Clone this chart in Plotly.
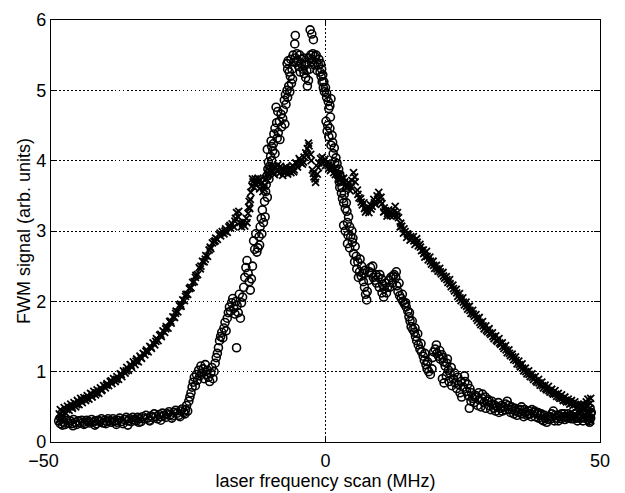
import plotly.graph_objects as go

# ---- data (laser frequency in MHz, FWM signal arb. units) ----
cross_points = [
    (-48.6,0.30),(-48.5,0.40),(-48.3,0.46),(-48.1,0.35),(-47.9,0.43),(-47.6,0.49),(-47.3,0.41),(-47.0,0.51),
    (-46.7,0.45),(-46.4,0.54),(-46.1,0.48),(-45.8,0.56),(-45.5,0.50),(-45.2,0.59),(-44.9,0.53),(-44.6,0.62),
    (-44.3,0.56),(-44.0,0.63),(-43.7,0.59),(-43.4,0.66),(-43.1,0.61),(-42.8,0.69),(-42.5,0.64),(-42.2,0.72),
    (-41.9,0.67),(-41.6,0.74),(-41.3,0.69),(-41.0,0.77),(-40.7,0.74),(-40.4,0.80),(-40.1,0.77),(-39.8,0.83),
    (-39.5,0.80),(-39.2,0.86),(-38.9,0.83),(-38.6,0.90),(-38.3,0.86),(-38.0,0.93),(-37.7,0.89),(-37.4,0.97),
    (-37.1,0.93),(-36.8,1.01),(-36.5,0.98),(-36.2,1.06),(-35.9,1.02),(-35.6,1.10),(-35.3,1.06),(-35.0,1.14),
    (-34.7,1.10),(-34.4,1.18),(-34.1,1.14),(-33.8,1.22),(-33.5,1.19),(-33.2,1.26),(-32.9,1.24),(-32.6,1.31),
    (-32.3,1.28),(-32.0,1.36),(-31.7,1.33),(-31.4,1.41),(-31.1,1.38),(-30.8,1.47),(-30.5,1.44),(-30.2,1.52),
    (-29.9,1.50),(-29.6,1.58),(-29.3,1.56),(-29.0,1.64),(-28.7,1.62),(-28.4,1.71),(-28.1,1.69),(-27.8,1.78),
    (-27.5,1.77),(-27.2,1.86),(-26.9,1.85),(-26.6,1.94),(-26.3,1.93),(-26.0,2.02),(-25.7,2.01),(-25.4,2.10),
    (-25.1,2.10),(-24.8,2.18),(-24.5,2.19),(-24.2,2.27),(-23.9,2.28),(-23.6,2.37),(-23.3,2.38),(-23.0,2.48),
    (-22.7,2.50),(-22.4,2.57),(-22.1,2.56),(-21.8,2.65),(-21.5,2.64),(-21.2,2.73),(-20.9,2.75),(-20.6,2.83),
    (-20.3,2.85),(-20.0,2.90),(-19.7,2.88),(-19.4,2.95),(-19.1,2.93),(-18.8,2.99),(-18.5,2.96),(-18.2,3.03),
    (-17.9,2.98),(-17.6,3.06),(-17.3,3.04),(-17.0,3.10),(-16.7,3.06),(-16.4,3.18),(-16.2,3.26),(-15.9,3.20),
    (-15.6,3.12),(-15.3,3.06),(-15.0,3.13),(-14.7,3.07),(-14.4,3.18),(-14.1,3.25),(-13.9,3.42),(-13.8,3.32),
    (-13.6,3.55),(-13.4,3.64),(-13.2,3.70),(-13.0,3.62),(-12.8,3.74),(-12.6,3.66),(-12.3,3.75),(-12.0,3.60),
    (-11.7,3.68),(-11.4,3.56),(-11.1,3.64),(-10.8,3.74),(-10.5,3.82),(-10.2,3.86),(-9.9,3.92),(-9.6,3.84),
    (-9.3,3.80),(-9.0,3.90),(-8.7,3.94),(-8.4,3.82),(-8.1,3.88),(-7.8,3.79),(-7.5,3.87),(-7.2,3.91),
    (-6.9,3.81),(-6.6,3.89),(-6.3,3.83),(-6.0,3.93),(-5.7,3.87),(-5.4,3.97),(-5.1,3.91),(-4.8,4.03),
    (-4.5,3.97),(-4.2,3.95),(-3.9,4.05),(-3.6,4.11),(-3.3,4.17),(-3.0,4.21),(-2.7,4.09),(-2.4,3.87),
    (-2.1,3.77),(-1.8,3.69),(-1.5,3.81),(-1.2,3.97),(-0.9,4.03),(-0.6,4.05),(-0.3,3.99),(0.0,3.93),
    (0.3,3.97),(0.6,3.89),(0.9,3.86),(1.2,3.93),(1.5,3.83),(1.8,3.80),(2.1,3.86),(2.4,3.73),
    (2.7,3.79),(3.0,3.69),(3.3,3.75),(3.6,3.65),(3.9,3.61),(4.2,3.69),(4.5,3.57),(4.8,3.72),
    (5.1,3.83),(5.4,3.70),(5.8,3.58),(6.1,3.47),(6.4,3.46),(6.7,3.37),(7.0,3.40),(7.3,3.27),
    (7.6,3.30),(7.9,3.26),(8.2,3.37),(8.5,3.35),(8.8,3.45),(9.1,3.38),(9.4,3.50),(9.7,3.55),
    (10.0,3.42),(10.3,3.39),(10.6,3.27),(10.9,3.29),(11.2,3.21),(11.5,3.30),(11.8,3.22),(12.1,3.24),
    (12.4,3.22),(12.7,3.35),(13.0,3.21),(13.3,3.19),(13.6,3.06),(13.9,3.07),(14.2,2.97),(14.5,2.99),
    (14.8,2.91),(15.1,2.95),(15.4,2.87),(15.7,2.89),(16.0,2.92),(16.3,2.81),(16.6,2.89),(16.9,2.79),
    (17.2,2.81),(17.5,2.72),(17.8,2.73),(18.1,2.63),(18.4,2.71),(18.7,2.59),(19.0,2.63),(19.3,2.53),
    (19.6,2.57),(19.9,2.47),(20.2,2.51),(20.5,2.43),(20.8,2.47),(21.1,2.39),(21.4,2.41),(21.7,2.33),
    (22.0,2.35),(22.3,2.27),(22.6,2.31),(22.9,2.21),(23.2,2.23),(23.5,2.15),(23.8,2.17),(24.1,2.07),
    (24.4,2.11),(24.7,2.01),(25.0,2.05),(25.3,1.95),(25.6,1.99),(25.9,1.89),(26.2,1.93),(26.5,1.83),
    (26.8,1.87),(27.1,1.79),(27.4,1.81),(27.7,1.73),(28.0,1.77),(28.3,1.67),(28.6,1.71),(28.9,1.61),
    (29.2,1.65),(29.5,1.57),(29.8,1.61),(30.1,1.53),(30.4,1.55),(30.7,1.47),(31.0,1.51),(31.3,1.43),
    (31.6,1.47),(31.9,1.39),(32.2,1.41),(32.5,1.33),(32.8,1.37),(33.1,1.27),(33.4,1.31),(33.7,1.23),
    (34.0,1.25),(34.3,1.17),(34.6,1.21),(34.9,1.11),(35.2,1.15),(35.5,1.07),(35.8,1.11),(36.1,1.01),
    (36.4,1.05),(36.7,0.97),(37.0,1.01),(37.3,0.93),(37.6,0.97),(37.9,0.89),(38.2,0.93),(38.5,0.85),
    (38.8,0.89),(39.1,0.81),(39.4,0.85),(39.7,0.77),(40.0,0.81),(40.3,0.74),(40.6,0.79),(40.9,0.71),
    (41.2,0.75),(41.5,0.68),(41.8,0.73),(42.1,0.65),(42.4,0.69),(42.7,0.62),(43.0,0.67),(43.3,0.59),
    (43.6,0.64),(43.9,0.57),(44.2,0.61),(44.5,0.54),(44.8,0.59),(45.1,0.52),(45.4,0.57),(45.7,0.49),
    (46.0,0.54),(46.3,0.47),(46.6,0.53),(46.9,0.46),(47.2,0.53),(47.5,0.57),(47.8,0.61),(48.0,0.47),
    (48.1,0.40),(48.2,0.34),(48.3,0.30),
    # second scan of the same trace (thickens the band)
    (-48.4,0.33),(-47.8,0.38),(-47.1,0.46),(-46.2,0.50),(-45.3,0.53),(-44.4,0.60),(-43.5,0.62),(-42.6,0.68),
    (-41.7,0.70),(-40.8,0.73),(-39.9,0.81),(-39.0,0.87),(-38.1,0.89),(-37.2,0.96),(-36.3,1.01),(-35.4,1.09),
    (-34.5,1.15),(-33.6,1.20),(-32.7,1.29),(-31.8,1.35),(-30.9,1.43),(-30.0,1.53),(-29.1,1.61),(-28.2,1.72),
    (-27.3,1.83),(-26.4,1.96),(-25.5,2.07),(-24.6,2.20),(-23.7,2.34),(-22.8,2.46),(-21.9,2.60),(-21.0,2.77),
    (-20.1,2.86),(-19.2,2.97),(-18.3,3.00),(-17.4,3.08),(-16.5,3.14),(-15.8,3.28),(-15.1,3.10),(-14.3,3.12),
    (-14.0,3.34),(-13.7,3.45),(-13.3,3.74),(-12.9,3.68),(-12.4,3.70),(-11.9,3.72),(-11.2,3.60),(-10.6,3.78),
    (-10.0,3.84),(-9.4,3.92),(-8.8,3.86),(-8.2,3.92),(-7.6,3.83),(-7.0,3.86),(-6.4,3.90),(-5.8,3.84),
    (-5.2,3.95),(-4.6,4.00),(-4.0,3.98),(-3.4,4.08),(-3.1,4.25),(-2.6,4.00),(-2.2,3.82),(-1.9,3.74),
    (-1.3,3.90),(-0.7,3.97),(-0.1,4.02),(0.5,3.93),(1.1,3.90),(1.7,3.88),(2.3,3.79),(2.9,3.74),
    (3.5,3.70),(4.1,3.64),(4.7,3.62),(5.3,3.77),(5.9,3.52),(6.5,3.41),(7.1,3.32),(7.7,3.34),
    (8.3,3.31),(8.9,3.40),(9.5,3.45),(10.1,3.48),(10.7,3.33),(11.3,3.25),(11.9,3.27),(12.5,3.28),
    (13.1,3.26),(13.7,3.11),(14.3,3.03),(14.9,2.96),(15.5,2.92),(16.1,2.86),(16.7,2.84),(17.3,2.77),
    (17.9,2.68),(18.5,2.64),(19.1,2.57),(19.7,2.51),(20.3,2.46),(20.9,2.42),(21.5,2.36),(22.1,2.31),
    (22.7,2.25),(23.3,2.18),(23.9,2.12),(24.5,2.05),(25.1,1.99),(25.7,1.93),(26.3,1.87),(26.9,1.82),
    (27.5,1.76),(28.1,1.70),(28.7,1.65),(29.3,1.59),(29.9,1.55),(30.5,1.50),(31.1,1.45),(31.7,1.41),
    (32.3,1.36),(32.9,1.31),(33.5,1.26),(34.1,1.21),(34.7,1.16),(35.3,1.10),(35.9,1.05),(36.5,1.00),
    (37.1,0.96),(37.7,0.92),(38.3,0.87),(38.9,0.84),(39.5,0.80),(40.1,0.76),(40.7,0.73),(41.3,0.70),
    (41.9,0.68),(42.5,0.64),(43.1,0.62),(43.7,0.59),(44.3,0.57),(44.9,0.55),(45.5,0.53),(46.1,0.51),
    (46.7,0.49),(47.3,0.48),(47.7,0.52),(48.0,0.42),(48.2,0.55),(48.3,0.62),
]

circle_points = [
    (-48.6,0.30),(-48.3,0.26),(-48.0,0.33),(-47.7,0.28),(-47.4,0.25),(-47.1,0.31),(-46.8,0.27),(-46.5,0.30),
    (-46.2,0.26),(-45.9,0.32),(-45.6,0.28),(-45.3,0.25),(-45.0,0.30),(-44.7,0.27),(-44.4,0.31),(-44.1,0.28),
    (-43.8,0.26),(-43.5,0.31),(-43.2,0.29),(-42.9,0.27),(-42.6,0.32),(-42.3,0.28),(-42.0,0.30),(-41.7,0.26),
    (-41.4,0.31),(-41.1,0.29),(-40.8,0.33),(-40.5,0.27),(-40.2,0.31),(-39.9,0.29),(-39.6,0.33),(-39.3,0.30),
    (-39.0,0.28),(-38.7,0.33),(-38.4,0.30),(-38.1,0.25),(-37.8,0.31),(-37.5,0.34),(-37.2,0.29),(-36.9,0.26),
    (-36.6,0.32),(-36.3,0.35),(-36.0,0.30),(-35.7,0.33),(-35.4,0.29),(-35.1,0.35),(-34.8,0.32),(-34.5,0.30),
    (-34.2,0.35),(-33.9,0.33),(-33.6,0.29),(-33.3,0.36),(-33.0,0.33),(-32.7,0.38),(-32.4,0.34),(-32.1,0.31),
    (-31.8,0.37),(-31.5,0.35),(-31.2,0.40),(-30.9,0.36),(-30.6,0.33),(-30.3,0.39),(-30.0,0.36),(-29.7,0.41),
    (-29.4,0.38),(-29.1,0.35),(-28.8,0.40),(-28.5,0.43),(-28.2,0.39),(-27.9,0.37),(-27.6,0.42),(-27.3,0.45),
    (-27.0,0.41),(-26.7,0.38),(-26.4,0.44),(-26.1,0.47),(-25.8,0.42),(-25.5,0.46),(-25.3,0.52),(-25.1,0.44),
    (-47.9,0.24),(-46.0,0.23),(-44.0,0.25),(-42.0,0.24),(-40.0,0.26),(-38.0,0.28),(-36.0,0.24),(-34.0,0.28),
    (-32.0,0.30),(-30.0,0.31),(-28.0,0.34),(-26.5,0.36),(-25.6,0.40),
    (-24.9,0.58),(-24.7,0.64),(-24.5,0.70),(-24.3,0.78),(-24.1,0.85),(-23.9,0.92),(-23.7,0.80),(-23.5,0.96),
    (-23.3,0.88),(-23.1,1.02),(-22.9,0.94),(-22.7,1.08),(-22.5,0.98),(-22.3,1.04),(-22.1,0.90),(-21.9,1.10),
    (-21.7,0.96),(-21.5,1.02),(-21.3,0.92),(-21.1,0.86),(-20.9,0.98),(-20.7,1.06),(-20.5,0.90),(-20.3,1.00),
    (-20.1,1.12),(-19.9,1.20),(-19.7,1.26),(-19.5,1.34),(-19.3,1.44),(-19.1,1.50),(-18.9,1.56),(-18.7,1.48),
    (-18.5,1.62),(-18.3,1.70),(-18.1,1.58),(-17.9,1.76),(-17.7,1.84),(-17.5,1.92),(-17.3,1.86),(-17.1,1.98),
    (-16.9,2.04),(-16.7,1.90),(-16.5,1.82),(-16.3,2.00),(-16.1,1.94),(-15.9,1.84),(-15.7,2.10),(-15.5,1.76),
    (-16.2,1.34),(-15.3,1.98),(-15.1,2.06),(-14.9,2.20),(-14.7,2.34),(-14.5,2.48),(-14.3,2.58),(-14.1,2.40),
    (-13.9,2.28),(-13.7,2.16),(-13.5,2.32),(-13.3,2.50),(-13.1,2.86),(-12.9,2.74),(-12.7,2.96),(-12.5,2.70),
    (-12.3,2.76),(-12.1,2.92),(-11.9,3.06),(-11.7,3.18),(-11.5,3.30),(-11.3,3.12),(-11.1,3.42),(-10.9,3.56),
    (-10.8,3.66),(-10.7,3.78),(-10.5,3.88),(-10.4,3.98),(-10.2,3.92),(-10.0,4.06),(-10.6,4.16),(-9.8,4.00),
    (-9.6,4.14),(-9.9,4.28),(-9.4,4.38),(-9.2,4.46),(-8.9,4.54),(-8.6,4.40),(-8.3,4.30),(-8.0,4.48),
    (-7.4,4.52),(-9.0,4.76),(-8.7,4.70),(-7.7,4.72),(-7.5,4.86),(-7.3,4.94),(-6.9,4.90),(-6.5,4.98),
    (-6.2,5.10),(-6.0,5.16),(-6.6,5.26),(-7.0,5.38),(-6.8,5.42),(-6.3,5.44),(-5.8,5.40),(-5.5,5.46),
    (-5.6,5.66),(-5.5,5.78),(-5.0,5.42),(-4.7,5.50),(-4.4,5.38),(-4.1,5.30),(-3.9,5.24),(-3.6,5.18),
    (-3.3,5.06),(-3.5,5.40),(-3.0,5.46),(-2.7,5.50),(-2.8,5.86),(-2.5,5.80),(-2.2,5.72),(-2.4,5.44),
    (-1.9,5.48),(-1.6,5.40),(-1.3,5.36),(-1.0,5.26),(-0.8,5.20),(-0.6,5.12),(-0.4,5.04),(-0.2,4.98),
    (0.2,4.90),(0.5,4.84),(0.8,4.78),(1.0,4.88),(0.1,4.56),(0.4,4.50),(0.3,4.42),(0.8,4.46),
    (1.2,4.36),(1.3,4.26),(1.6,4.18),(1.9,4.04),(2.1,3.96),(2.4,3.88),(2.6,3.80),(2.8,3.72),
    (2.6,3.62),(2.9,3.54),(3.1,3.46),(3.3,3.40),(3.6,3.32),(3.9,3.28),(4.2,3.20),(4.0,3.12),
    (3.3,3.08),(3.6,3.00),(4.1,2.94),(4.6,2.92),(4.0,2.82),(4.4,2.76),(4.9,2.84),(5.4,2.78),
    (5.1,2.68),(5.6,2.64),(5.9,2.56),(6.3,2.60),(6.6,2.50),(6.2,2.42),(6.5,2.36),(6.9,2.28),
    (7.1,2.20),(7.3,2.10),(7.5,2.02),(7.6,2.14),(7.9,2.30),(8.2,2.48),(8.4,2.40),(8.7,2.34),
    (9.0,2.30),(9.3,2.26),(9.6,2.34),(9.9,2.38),(10.2,2.32),(10.4,2.24),(10.7,2.18),(10.6,2.06),
    (11.0,2.26),(11.3,2.20),(11.6,2.30),(11.9,2.34),(12.2,2.26),(12.5,2.38),(12.8,2.34),(13.0,2.22),
    (13.2,2.14),(13.5,2.08),(13.8,2.04),(14.1,2.00),(14.4,1.96),(14.7,1.92),(15.0,1.86),(15.2,1.78),
    (15.4,1.72),(15.6,1.64),(15.9,1.60),(16.2,1.56),(16.4,1.50),(16.6,1.44),(16.9,1.38),(17.2,1.32),
    (17.5,1.28),(17.8,1.22),(18.0,1.16),(18.3,1.10),(18.5,1.04),(18.8,1.00),(19.1,0.96),(19.4,1.04),
    (19.7,1.28),(20.0,1.32),(20.3,1.26),(20.6,1.22),(20.9,1.18),(21.2,1.24),(21.5,1.14),(21.8,1.08),
    (22.1,1.12),(22.4,1.02),(22.7,0.98),(21.3,0.90),(21.6,0.84),(22.0,0.94),(22.5,0.86),(23.0,0.80),
    (23.3,0.90),(23.6,0.84),(23.9,0.76),(24.2,0.82),(24.5,0.70),(24.8,0.64),(25.1,0.78),(25.4,0.86),
    (25.7,0.72),(26.0,0.66),(26.3,0.76),(26.5,0.58),(26.2,0.48),(26.8,0.62),(27.1,0.56),(27.4,0.66),
    (27.7,0.52),(28.0,0.60),(28.3,0.50),(28.6,0.68),(28.9,0.56),(29.2,0.48),(29.5,0.58),(29.8,0.52),
    (30.1,0.46),(30.4,0.54),(30.7,0.48),(31.0,0.44),(31.3,0.50),(31.6,0.42),(31.9,0.48),(32.2,0.44),
    (32.5,0.50),(32.8,0.54),(33.1,0.58),(33.4,0.46),(33.7,0.42),(34.0,0.46),(34.3,0.40),(34.6,0.44),
    (34.9,0.38),(35.2,0.42),(35.5,0.46),(35.8,0.40),(36.1,0.36),(36.4,0.42),(36.7,0.38),(37.0,0.44),
    (37.3,0.40),(37.6,0.46),(37.9,0.42),(38.2,0.36),(38.5,0.40),(38.8,0.34),(39.1,0.38),(39.4,0.32),
    (39.7,0.30),(40.0,0.34),(40.3,0.28),(40.6,0.32),(40.9,0.36),(41.2,0.40),(41.5,0.44),(41.8,0.38),
    (42.1,0.34),(42.4,0.30),(42.7,0.36),(43.0,0.40),(43.3,0.36),(43.6,0.32),(43.9,0.36),(44.2,0.40),
    (44.5,0.36),(44.8,0.33),(45.1,0.36),(45.4,0.40),(45.7,0.36),(46.0,0.34),(46.3,0.38),(46.6,0.34),
    (46.9,0.30),(47.2,0.34),(47.5,0.38),(47.8,0.32),(48.1,0.28),(48.3,0.34),(48.4,0.42),(48.2,0.48),
    # second scan of the same trace
    (-12.0,2.80),(-11.6,2.96),(-11.0,3.20),(-10.6,3.48),(-11.2,3.72),(-10.3,3.74),(-10.1,3.86),(-9.8,4.20),
    (-9.5,4.24),(-9.2,4.10),(-8.8,4.32),(-8.4,4.56),(-8.1,4.66),(-7.8,4.60),(-7.2,4.80),(-7.0,5.00),
    (-6.7,5.06),(-6.4,5.20),(-6.9,5.30),(-6.1,5.30),(-5.9,5.50),(-5.3,5.40),(-5.2,5.52),(-4.9,5.34),
    (-4.6,5.26),(-4.3,5.44),(-4.0,5.46),(-3.7,5.36),(-3.4,5.28),(-3.1,5.14),(-2.9,5.30),(-2.6,5.40),
    (-2.3,5.52),(-2.0,5.36),(-1.7,5.50),(-1.5,5.28),(-1.2,5.44),(-0.9,5.38),(-0.7,5.30),(-0.5,5.22),
    (-0.3,5.12),(0.0,5.04),(0.2,4.96),(0.6,4.74),(0.9,4.62),(0.6,4.34),(1.0,4.22),(1.4,4.10),
    (1.7,3.98),(2.2,3.80),(2.5,3.70),(3.0,3.62),(3.4,3.52),(3.8,3.40),(4.4,3.06),(4.8,3.00),
    (5.0,2.90),(5.3,2.56),(5.7,2.46),(6.0,2.34),(6.8,2.40),(7.2,2.44),(8.0,2.42),(8.6,2.50),
    (9.2,2.38),(9.8,2.20),(10.3,2.12),(11.1,2.12),(11.7,2.20),(12.3,2.36),(12.9,2.42),(13.4,2.26),
    (14.0,2.10),(14.6,1.98),(15.3,1.84),(15.8,1.72),(16.3,1.62),(16.8,1.54),(17.4,1.40),(18.1,1.26),
    (18.6,1.14),(19.5,1.20),(20.2,1.38),(20.8,1.30),(21.4,1.20),(22.2,1.18),(22.9,1.06),(23.5,0.98),
    (24.1,0.92),(24.7,0.86),(25.3,0.94),(25.9,0.82),(26.6,0.70),(27.2,0.64),(27.9,0.70),(28.5,0.62),
    (29.1,0.64),(29.7,0.60),(30.3,0.58),(30.9,0.52),(31.5,0.56),(32.1,0.52),(32.7,0.46),(33.3,0.52),
    (33.9,0.50),(34.5,0.48),(35.1,0.46),(35.7,0.50),(36.3,0.46),(36.9,0.40),(37.5,0.36),(38.1,0.44),
    (38.7,0.42),(39.3,0.40),(39.9,0.38),(40.5,0.36),(41.1,0.33),(41.7,0.30),(42.3,0.38),(42.9,0.33),
    (43.5,0.40),(44.1,0.34),(44.7,0.38),(45.3,0.33),(45.9,0.30),(46.5,0.36),(47.1,0.40),(47.7,0.36),
    (48.3,0.40),(48.0,0.30),
]

x_tick_vals = [-50, 0, 50]
# the leftmost label sits a little to the left of its tick in the reference (padding with no-break spaces)
x_tick_text = ["\u221250\u00a0\u00a0\u00a0", "0", "50"]
y_tick_vals = [0, 1, 2, 3, 4, 5, 6]
x_title = "laser frequency scan (MHz)"
y_title = "FWM signal (arb. units)"

cross_x = [p[0] for p in cross_points]
cross_y = [p[1] for p in cross_points]
circ_x = [p[0] for p in circle_points]
circ_y = [p[1] for p in circle_points]

FONT = "Liberation Sans, Arial, Helvetica, sans-serif"

fig = go.Figure()
fig.add_trace(go.Scatter(
    x=cross_x, y=cross_y, mode="markers",
    marker=dict(symbol="x-thin-open", size=7, color="black",
                line=dict(color="black", width=1.8)),
    showlegend=False, hoverinfo="skip"))
fig.add_trace(go.Scatter(
    x=circ_x, y=circ_y, mode="markers",
    marker=dict(symbol="circle-open", size=8, color="black",
                line=dict(color="black", width=1.6)),
    showlegend=False, hoverinfo="skip"))

axis_common = dict(
    showline=True, linecolor="black", linewidth=1.2, mirror="ticks",
    ticks="inside", ticklen=6, tickwidth=1, tickcolor="black",
    showgrid=True, gridcolor="black", gridwidth=1, griddash="1.5px,2.5px",
    zeroline=False,
    tickfont=dict(family=FONT, size=18, color="black"),
)

fig.update_xaxes(range=[-50, 50], tickvals=x_tick_vals, ticktext=x_tick_text,
                 ticklabelstandoff=2,
                 title=dict(text=x_title, font=dict(family=FONT, size=18, color="black"), standoff=0),
                 **axis_common)
fig.update_yaxes(range=[0, 6], tickvals=y_tick_vals,
                 title=dict(text=y_title, font=dict(family=FONT, size=18, color="black"), standoff=0),
                 **axis_common)

fig.update_layout(
    width=625, height=493,
    margin=dict(l=51, r=25, t=10, b=50),
    paper_bgcolor="white", plot_bgcolor="white",
    font=dict(family=FONT, size=18, color="black"),
)

fig.write_html("out.html")
